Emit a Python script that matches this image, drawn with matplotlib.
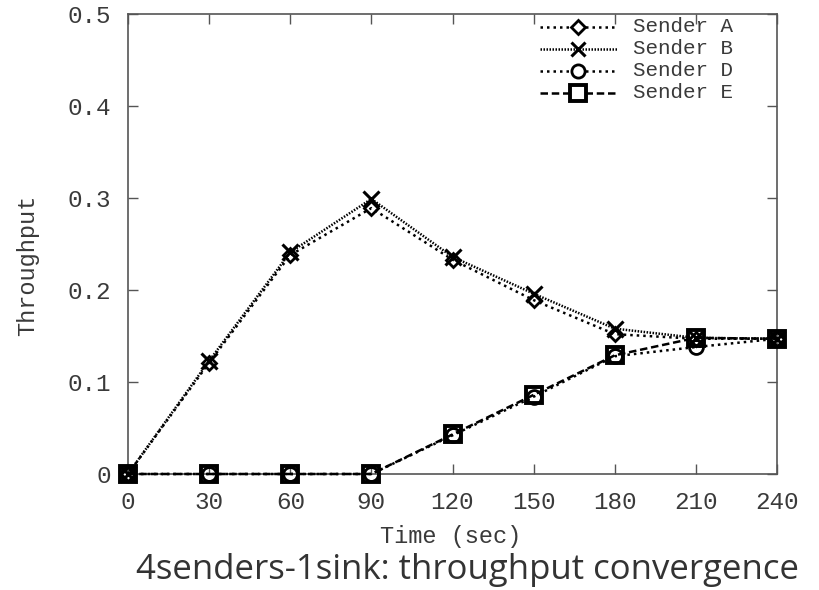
import matplotlib
matplotlib.use("Agg")
import matplotlib.pyplot as plt
from matplotlib.lines import Line2D

# Throughput of each sender over time
time_sec = [0, 30, 60, 90, 120, 150, 180, 210, 240]
sender_a = [0.0, 0.121, 0.238, 0.289, 0.233, 0.189, 0.152, 0.147, 0.147]
sender_b = [0.0, 0.123, 0.241, 0.299, 0.236, 0.196, 0.158, 0.148, 0.147]
sender_d = [0.0, 0.0, 0.0, 0.0, 0.042, 0.084, 0.128, 0.138, 0.147]
sender_e = [0.0, 0.0, 0.0, 0.0, 0.043, 0.086, 0.129, 0.148, 0.147]
labels = ["Sender A", "Sender B", "Sender D", "Sender E"]
y_ticks = [0, 0.1, 0.2, 0.3, 0.4, 0.5]
y_tick_labels = ["0", "0.1", "0.2", "0.3", "0.4", "0.5"]

mono = "Liberation Mono"
frame_color = "#555555"
text_color = "#3a3a3a"

fig = plt.figure(figsize=(8.19, 5.90), dpi=100)
ax = fig.add_axes([128 / 819, 1 - 474 / 590, (777 - 128) / 819, (474 - 14) / 590])

styles = [
    dict(ls=(0, (1, 1.6)), marker="D", ms=7, mew=2.0),
    dict(ls=(0, (0.6, 0.6)), marker="x", ms=11, mew=2.2),
    dict(ls=(0, (1, 1.6)), marker="o", ms=10, mew=2.0),
    dict(ls=(0, (3, 1.5)), marker="s", ms=11.5, mew=2.8),
]
series = [sender_a, sender_b, sender_d, sender_e]

for vals, st in zip(series, styles):
    ax.plot(time_sec, vals, color="black", lw=1.8, linestyle=st["ls"],
            marker=st["marker"], markersize=st["ms"], markeredgewidth=st["mew"],
            markerfacecolor="none", markeredgecolor="black", clip_on=False, zorder=3)

ax.set_xlim(0, 240)
ax.set_ylim(0, 0.5)
ax.set_xticks(time_sec)
ax.set_xticklabels([str(t) for t in time_sec])
ax.set_yticks(y_ticks)
ax.set_yticklabels(y_tick_labels)

for spine in ax.spines.values():
    spine.set_color(frame_color)
    spine.set_linewidth(1.2)
ax.tick_params(direction="in", length=7, width=1.0, color=frame_color,
               top=True, right=True, labelsize=17.5, labelcolor=text_color)
ax.tick_params(axis="x", pad=12)
ax.tick_params(axis="y", pad=12)
for lbl in ax.get_xticklabels() + ax.get_yticklabels():
    lbl.set_family(mono)

fig.text(451 / 819, 1 - 537 / 590, "Time (sec)", ha="center", va="center",
         family=mono, fontsize=17, color=text_color)
fig.text(28 / 819, 1 - 265 / 590, "Throughput", ha="center", va="center",
         rotation=90, family=mono, fontsize=17, color=text_color)
fig.text(467 / 819, 1 - 579 / 590, "4senders-1sink: throughput convergence",
         ha="center", va="baseline", family="Open Sans", fontsize=25, color="#333333")

# Key drawn in axes coordinates
row_y = [27, 49, 71, 93]
x0, x1, xm, xt = 540, 617, 578, 633
to_ax_x = lambda px: (px - 128) / (777 - 128)
to_ax_y = lambda py: (474 - py) / (474 - 14)
for ypx, st, lab in zip(row_y, styles, labels):
    ya = to_ax_y(ypx)
    ax.add_line(Line2D([to_ax_x(x0), to_ax_x(x1)], [ya, ya], transform=ax.transAxes,
                       color="black", lw=1.8, linestyle=st["ls"], zorder=4))
    ax.add_line(Line2D([to_ax_x(xm)], [ya], transform=ax.transAxes, color="black",
                       marker=st["marker"], markersize=st["ms"] * 0.95,
                       markeredgewidth=st["mew"], markerfacecolor="white",
                       markeredgecolor="black", linestyle="none", zorder=5))
    ax.text(to_ax_x(xt), ya, lab, transform=ax.transAxes, ha="left", va="center",
            family=mono, fontsize=15, color=text_color)

fig.savefig("out.png", dpi=100)
